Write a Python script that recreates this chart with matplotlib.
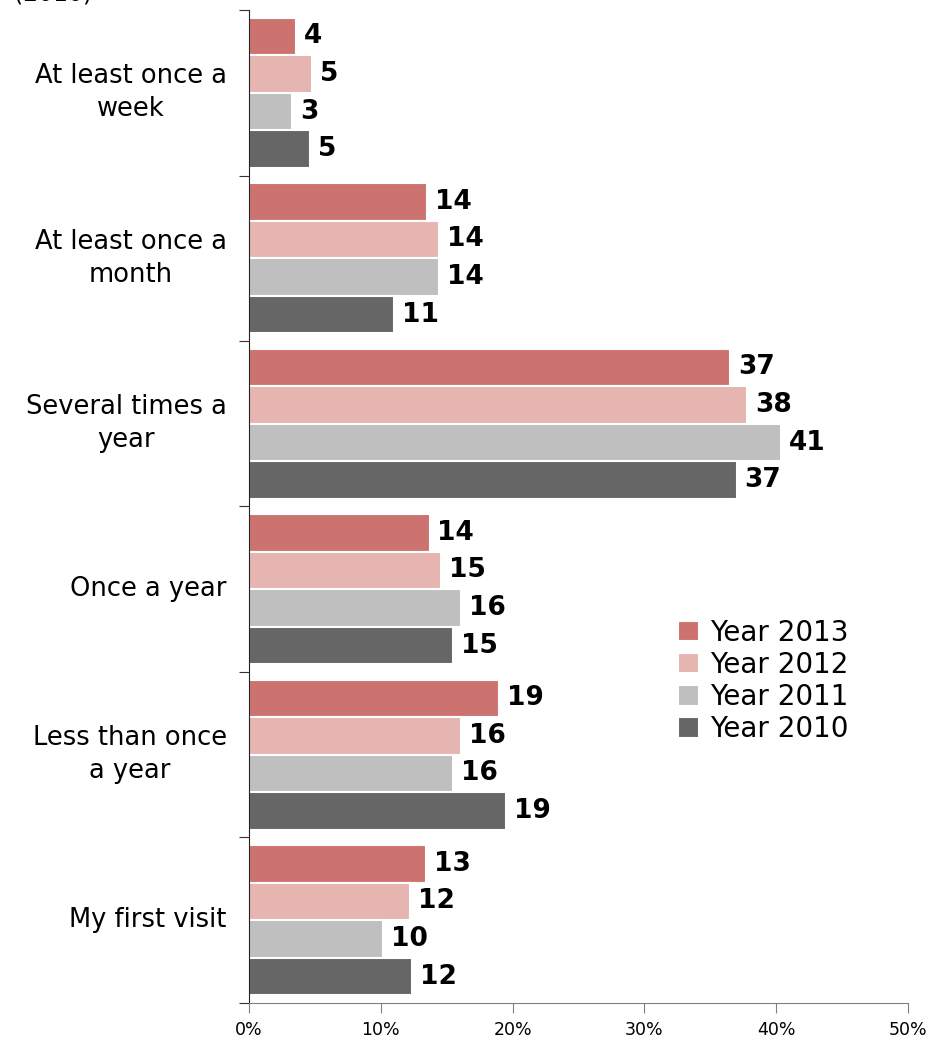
import matplotlib.pyplot as plt
import numpy as np

categories = ["At least once a\nweek", "At least once a\nmonth", "Several times a\nyear",
              "Once a year", "Less than once\na year", "My first visit"]
years = ["Year 2013", "Year 2012", "Year 2011", "Year 2010"]
colors = ["#CC7370", "#E6B5B0", "#BFBFBF", "#666666"]

# bar lengths (%), and the printed labels
values = {
    "Year 2013": [3.6, 13.5, 36.5, 13.7, 19.0, 13.4],
    "Year 2012": [4.8, 14.4, 37.8, 14.6, 16.1, 12.2],
    "Year 2011": [3.3, 14.4, 40.4, 16.1, 15.5, 10.2],
    "Year 2010": [4.6, 11.0, 37.0, 15.5, 19.5, 12.4],
}
labels = {
    "Year 2013": [4, 14, 37, 14, 19, 13],
    "Year 2012": [5, 14, 38, 15, 16, 12],
    "Year 2011": [3, 14, 41, 16, 16, 10],
    "Year 2010": [5, 11, 37, 15, 19, 12],
}

plt.rcParams['font.family'] = ['DejaVu Sans']

fig = plt.figure(figsize=(9.35, 10.43), dpi=100)
ax = fig.add_axes([0.2663, 0.0384, 0.7048, 0.952])

step = 0.227
centers = np.arange(len(categories)) + 0.5
for i, year in enumerate(years):
    pos = centers + (i - 1.5) * step
    bars = ax.barh(pos, values[year], height=step, color=colors[i],
                   edgecolor="white", linewidth=1.5, label=year)
    for b, lab in zip(bars, labels[year]):
        ax.text(b.get_width() + 0.6, b.get_y() + b.get_height() / 2, str(lab),
                va="center", ha="left", fontsize=19, fontweight="bold")

ax.set_ylim(len(categories), 0)
ax.set_xlim(0, 50)
ax.set_xticks(np.arange(0, 51, 10))
ax.set_xticklabels([f"{v}%" for v in range(0, 51, 10)], fontsize=12.5)
ax.tick_params(axis="x", direction="out", length=7, color="#808080", pad=6)

ax.set_yticks(np.arange(0, len(categories) + 1))
ax.set_yticklabels([])
ax.tick_params(axis="y", which="major", direction="out", length=7, color="#333333")
ax.set_yticks(centers, minor=True)
ax.set_yticklabels(categories, minor=True, fontsize=18.5, multialignment="center",
                   linespacing=1.35, va="center")
ax.tick_params(axis="y", which="minor", length=0, pad=16)

for s in ["top", "right"]:
    ax.spines[s].set_visible(False)
ax.spines["bottom"].set_color("#808080")
ax.spines["left"].set_color("#222222")

fig.text(0.015, 1.006, "(2010)", fontsize=17, va="center", ha="left")

ax.legend(loc="upper left", bbox_to_anchor=(0.71, 0.42), bbox_transform=fig.transFigure,
          frameon=False, fontsize=20, handlelength=0.75, handleheight=0.75,
          handletextpad=0.4, labelspacing=0.15, borderpad=0)

fig.savefig("out.png", dpi=100)
